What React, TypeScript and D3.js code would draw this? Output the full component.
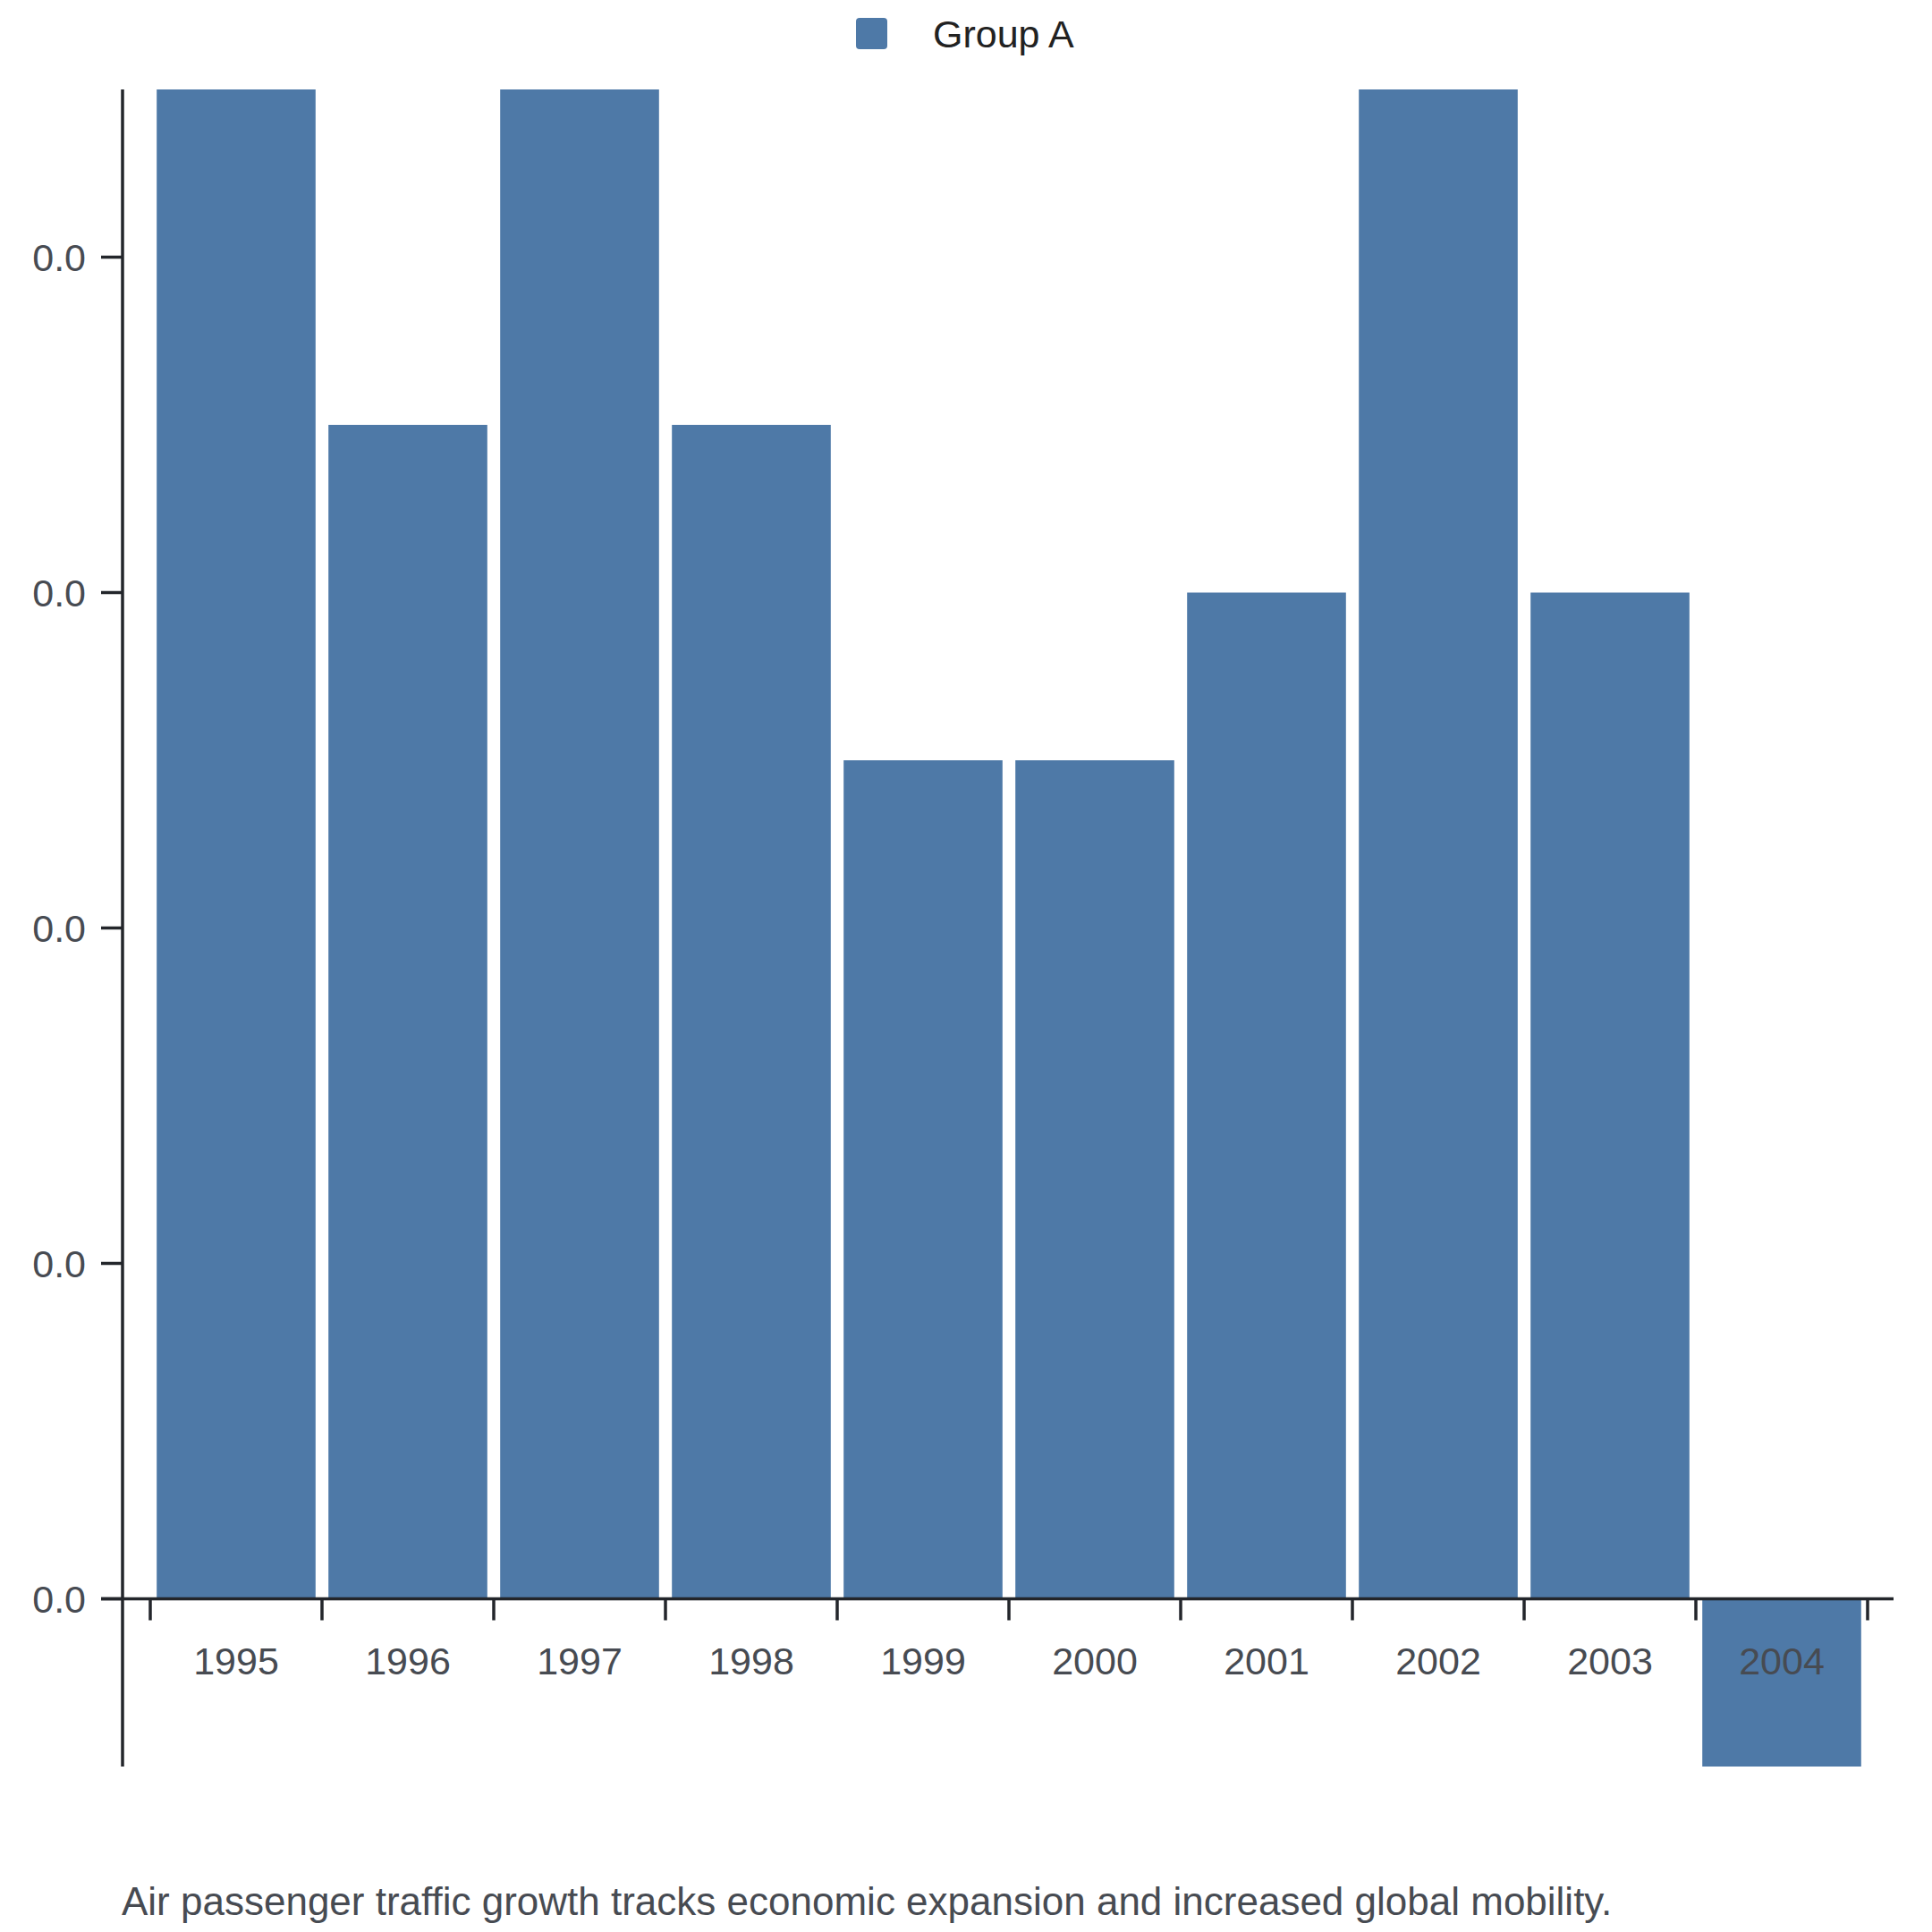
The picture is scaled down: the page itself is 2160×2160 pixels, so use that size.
import React from "react";
import * as d3 from "d3";

const years = ["1995", "1996", "1997", "1998", "1999", "2000", "2001", "2002", "2003", "2004"];
const growth = [0.045, 0.035, 0.045, 0.035, 0.025, 0.025, 0.03, 0.045, 0.03, -0.005];
const yTicks = [0, 0.01, 0.02, 0.03, 0.04];
const seriesName = "Group A";
const caption = "Air passenger traffic growth tracks economic expansion and increased global mobility.";

const W = 2160;
const H = 2160;
const FONT = "'Liberation Sans', Arial, sans-serif";
const BAR = "#4e79a7";
const AXIS = "#23262b";
const TXT = "#474b52";

export default function App() {
  const x = d3
    .scaleBand<string>()
    .domain(years)
    .range([168, 2088])
    .paddingInner(0.075)
    .paddingOuter(0.0375);
  const y = d3.scaleLinear().domain([-0.005, 0.045]).range([1975, 100]);
  const fmt = d3.format(".1f");
  const step = x.step();
  const bandStart = x.range()[0];
  const boundaries = d3.range(years.length + 1).map((i) => bandStart + i * step);
  const y0 = y(0);

  return (
    <svg
      width={W}
      height={H}
      viewBox={`0 0 ${W} ${H}`}
      style={{ position: "absolute", left: 0, top: 0, background: "#fff" }}
    >
      <rect x={0} y={0} width={W} height={H} fill="#fff" />
      {/* legend */}
      <rect x={957} y={20} width={35} height={35} rx={4} fill={BAR} />
      <text x={1043} y={38} dy="0.35em" fontFamily={FONT} fontSize={43} fill="#222">
        {seriesName}
      </text>

      {/* bars */}
      {years.map((yr, i) => {
        const v = growth[i];
        const top = Math.min(y(v), y0);
        const h = Math.abs(y(v) - y0);
        return <rect key={yr} x={x(yr)} y={top} width={x.bandwidth()} height={h} fill={BAR} />;
      })}

      {/* y axis */}
      <line x1={137} x2={137} y1={y.range()[1]} y2={y.range()[0]} stroke={AXIS} strokeWidth={3.5} />
      {yTicks.map((t) => (
        <g key={t}>
          <line x1={113} x2={137} y1={y(t)} y2={y(t)} stroke={AXIS} strokeWidth={3.5} />
          <text
            x={96}
            y={y(t)}
            dy="0.35em"
            textAnchor="end"
            fontFamily={FONT}
            fontSize={43}
            fill={TXT}
          >
            {fmt(t)}
          </text>
        </g>
      ))}

      {/* x axis at zero */}
      <line x1={113} x2={2117} y1={y0} y2={y0} stroke={AXIS} strokeWidth={3.5} />
      {boundaries.map((bx, i) => (
        <line key={i} x1={bx} x2={bx} y1={y0} y2={y0 + 24} stroke={AXIS} strokeWidth={3.5} />
      ))}
      {years.map((yr) => (
        <text
          key={yr}
          x={(x(yr) as number) + x.bandwidth() / 2}
          y={1857}
          dy="0.35em"
          textAnchor="middle"
          fontFamily={FONT}
          fontSize={43}
          fill={TXT}
        >
          {yr}
        </text>
      ))}

      {/* caption */}
      <text x={136} y={2126} dy="0.35em" fontFamily={FONT} fontSize={44} fill={TXT}>
        {caption}
      </text>
    </svg>
  );
}
